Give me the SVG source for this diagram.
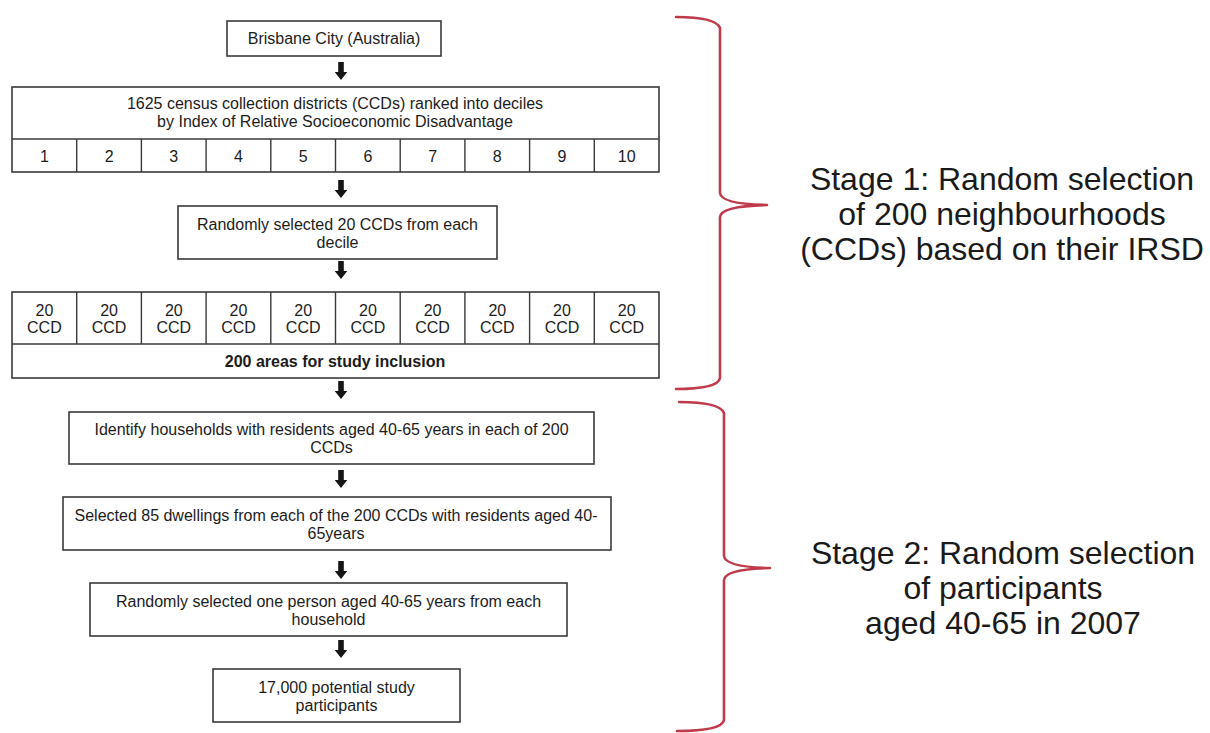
<svg xmlns="http://www.w3.org/2000/svg" xmlns:xlink="http://www.w3.org/1999/xlink" width="1210" height="733" viewBox="0 0 1210 733">
  <style>
    .box { fill: #ffffff; stroke: #3a3a3a; stroke-width: 1.6; }
    .div { stroke: #3a3a3a; stroke-width: 1.4; fill: none; }
    .t { font-family: "Liberation Sans", Arial, sans-serif; font-size: 16px; fill: #1c1c1c; text-anchor: middle; }
    .b { font-weight: bold; }
    .stage { font-family: "Liberation Sans", Arial, sans-serif; font-size: 32px; fill: #1a1a1a; text-anchor: middle; }
    .brace { fill: none; stroke: #bf3a4b; stroke-width: 2.6; stroke-linecap: round; stroke-linejoin: round; }
    .arrow { fill: #151515; }
  </style>
  <defs>
    <!-- block arrow pointing down, drawn with its top centre at the origin -->
    <path id="down-arrow" d="M-2.8,0 H2.8 V10 H6.3 L0,18 L-6.3,10 H-2.8 Z"/>
  </defs>

  <rect width="1210" height="733" fill="#ffffff"/>

  <!-- top of the flow -->
  <g id="brisbane">
    <rect class="box" x="227" y="21" width="214" height="35"/>
    <text class="t" x="334" y="44">Brisbane City (Australia)</text>
  </g>

  <!-- census districts split into ten deciles -->
  <g id="deciles">
    <rect class="box" x="12" y="87" width="647" height="85"/>
    <line class="div" x1="12" y1="139" x2="659" y2="139"/>
    <path class="div" d="M76.7,139V172 M141.4,139V172 M206.1,139V172 M270.8,139V172 M335.5,139V172 M400.2,139V172 M464.9,139V172 M529.6,139V172 M594.3,139V172"/>
    <text class="t" x="335" y="109">1625 census collection districts (CCDs) ranked into deciles</text>
    <text class="t" x="335" y="127">by Index of Relative Socioeconomic Disadvantage</text>
    <text class="t" x="44.4" y="162">1</text>
    <text class="t" x="109.1" y="162">2</text>
    <text class="t" x="173.8" y="162">3</text>
    <text class="t" x="238.5" y="162">4</text>
    <text class="t" x="303.2" y="162">5</text>
    <text class="t" x="367.9" y="162">6</text>
    <text class="t" x="432.6" y="162">7</text>
    <text class="t" x="497.3" y="162">8</text>
    <text class="t" x="562" y="162">9</text>
    <text class="t" x="626.7" y="162">10</text>
  </g>

  <g id="select-20">
    <rect class="box" x="178" y="206" width="319" height="53"/>
    <text class="t" x="337.5" y="230">Randomly selected 20 CCDs from each</text>
    <text class="t" x="337.5" y="248">decile</text>
  </g>

  <!-- twenty districts from each decile -->
  <g id="areas-200">
    <rect class="box" x="12" y="292" width="647" height="86"/>
    <line class="div" x1="12" y1="344" x2="659" y2="344"/>
    <path class="div" d="M76.7,292V344 M141.4,292V344 M206.1,292V344 M270.8,292V344 M335.5,292V344 M400.2,292V344 M464.9,292V344 M529.6,292V344 M594.3,292V344"/>
    <g class="t">
      <text x="44.4" y="316">20</text><text x="44.4" y="333">CCD</text>
      <text x="109.1" y="316">20</text><text x="109.1" y="333">CCD</text>
      <text x="173.8" y="316">20</text><text x="173.8" y="333">CCD</text>
      <text x="238.5" y="316">20</text><text x="238.5" y="333">CCD</text>
      <text x="303.2" y="316">20</text><text x="303.2" y="333">CCD</text>
      <text x="367.9" y="316">20</text><text x="367.9" y="333">CCD</text>
      <text x="432.6" y="316">20</text><text x="432.6" y="333">CCD</text>
      <text x="497.3" y="316">20</text><text x="497.3" y="333">CCD</text>
      <text x="562" y="316">20</text><text x="562" y="333">CCD</text>
      <text x="626.7" y="316">20</text><text x="626.7" y="333">CCD</text>
    </g>
    <text class="t b" x="335" y="367">200 areas for study inclusion</text>
  </g>

  <g id="identify">
    <rect class="box" x="69" y="412" width="525" height="52"/>
    <text class="t" x="331.5" y="435">Identify households with residents aged 40-65 years in each of 200</text>
    <text class="t" x="331.5" y="453">CCDs</text>
  </g>

  <g id="dwellings">
    <rect class="box" x="63" y="497" width="548" height="53"/>
    <text class="t" x="336" y="521">Selected 85 dwellings from each of the 200 CCDs with residents aged 40-</text>
    <text class="t" x="336" y="539">65years</text>
  </g>

  <g id="one-person">
    <rect class="box" x="90" y="583" width="477" height="53"/>
    <text class="t" x="328.5" y="607">Randomly selected one person aged 40-65 years from each</text>
    <text class="t" x="328.5" y="625">household</text>
  </g>

  <g id="participants">
    <rect class="box" x="213" y="669" width="247" height="53"/>
    <text class="t" x="336.5" y="693">17,000 potential study</text>
    <text class="t" x="336.5" y="711">participants</text>
  </g>

  <!-- flow arrows between steps -->
  <g id="connectors" class="arrow">
    <use xlink:href="#down-arrow" x="341" y="62"/>
    <use xlink:href="#down-arrow" x="341" y="180"/>
    <use xlink:href="#down-arrow" x="341" y="261"/>
    <use xlink:href="#down-arrow" x="341" y="381"/>
    <use xlink:href="#down-arrow" x="341" y="470"/>
    <use xlink:href="#down-arrow" x="341" y="561"/>
    <use xlink:href="#down-arrow" x="341" y="640"/>
  </g>

  <!-- stage braces and labels -->
  <g id="stage-1">
    <path class="brace" d="M676,17 Q716,17 720,28 L720,193 Q721,204 767,205 Q721,206 720,217 L720,378 Q718,389 676,389"/>
    <text class="stage" x="1002" y="190">Stage 1: Random selection</text>
    <text class="stage" x="1002" y="225">of 200 neighbourhoods</text>
    <text class="stage" x="1002" y="260">(CCDs) based on their IRSD</text>
  </g>

  <g id="stage-2">
    <path class="brace" d="M679,402 Q720,402 724,413 L724,556 Q725,567 770,568 Q725,569 724,580 L724,720 Q722,731 677,731"/>
    <text class="stage" x="1003" y="564">Stage 2: Random selection</text>
    <text class="stage" x="1003" y="599">of participants</text>
    <text class="stage" x="1003" y="634">aged 40-65 in 2007</text>
  </g>
</svg>
